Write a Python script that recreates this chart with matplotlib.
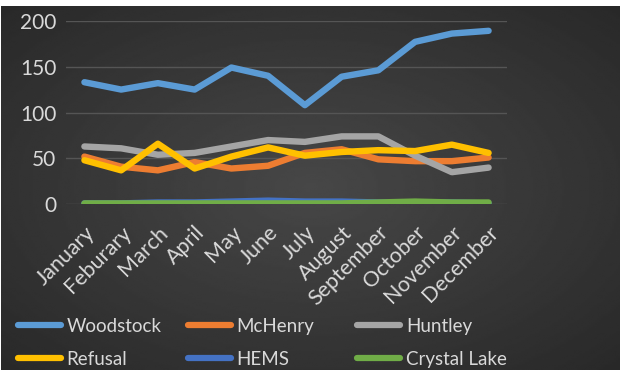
import numpy as np
import matplotlib.pyplot as plt
from matplotlib.lines import Line2D

plt.rcParams['font.family'] = ['Lato', 'DejaVu Sans']

# 月份与各站点数据
months = ['January', 'Feburary', 'March', 'April', 'May', 'June', 'July',
          'August', 'September', 'October', 'November', 'December']
woodstock = [133, 125, 132, 125, 149, 140, 108, 139, 146, 177, 186, 189]
mchenry = [52, 41, 37, 46, 39, 42, 56, 60, 49, 47, 47, 51]
huntley = [63, 61, 54, 56, 63, 70, 68, 74, 74, 53, 35, 40]
refusal = [48, 37, 66, 39, 52, 62, 53, 57, 59, 58, 65, 56]
hems = [1, 1, 2, 2, 3, 4, 3, 3, 2, 2, 2, 1]
crystal_lake = [1, 1, 1, 1, 1, 1, 1, 1, 2, 3, 2, 2]

series = [('Woodstock', woodstock, '#5B9BD5'),
          ('McHenry', mchenry, '#ED7D31'),
          ('Huntley', huntley, '#A5A5A5'),
          ('Refusal', refusal, '#FFC000'),
          ('HEMS', hems, '#4472C4'),
          ('Crystal Lake', crystal_lake, '#70AD47')]

fig = plt.figure(figsize=(6.2, 3.7), dpi=100)
fig.patch.set_facecolor('white')

# 背景：深灰色径向渐变
bg = fig.add_axes([0.0016, 0, 0.9984, 0.984])
yy, xx = np.mgrid[-1:1:200j, -1:1:300j]
r = np.sqrt(xx ** 2 + yy ** 2) / np.sqrt(2)
bg.imshow(0.28 - 0.12 * r, cmap='gray', vmin=0, vmax=1, aspect='auto',
          extent=[0, 1, 0, 1], interpolation='bilinear')
bg.axis('off')

ax = fig.add_axes([0.1065, 0.4478, 0.7112, 0.4962])
ax.patch.set_alpha(0)
x = np.arange(len(months))
for name, vals, col in series:
    ax.plot(x, vals, color=col, linewidth=4.6, solid_capstyle='round',
            solid_joinstyle='round', label=name)

ax.set_xlim(-0.5, len(months) - 0.5)
ax.set_ylim(0, 200)
ax.set_yticks([0, 50, 100, 150, 200])
ax.set_xticks(x)
ax.set_xticklabels(months, rotation=45, ha='right', rotation_mode='anchor')
ax.tick_params(colors='#D9D9D9', labelsize=15, length=0, pad=7)
ax.tick_params(axis='x', labelsize=15.5, pad=13)
ax.grid(axis='y', color='#555555', linewidth=1)
ax.set_axisbelow(True)
for s in ax.spines.values():
    s.set_visible(False)

# 图例：三列，每列两项，按行排列
handles = [Line2D([], [], color=c, linewidth=4.5, solid_capstyle='round') for _, _, c in series]
labels = [n for n, _, _ in series]
col_x = [18, 188, 357]
for k in range(3):
    leg = fig.legend([handles[k], handles[k + 3]], [labels[k], labels[k + 3]],
                     loc='center left', bbox_to_anchor=(col_x[k] / 620, 1 - 343 / 370),
                     frameon=False, fontsize=13.5, handlelength=2.3, handletextpad=0.3,
                     labelspacing=0.85, borderaxespad=0, borderpad=0)
    for t in leg.get_texts():
        t.set_color('#D9D9D9')

fig.savefig('out.png', dpi=100)
